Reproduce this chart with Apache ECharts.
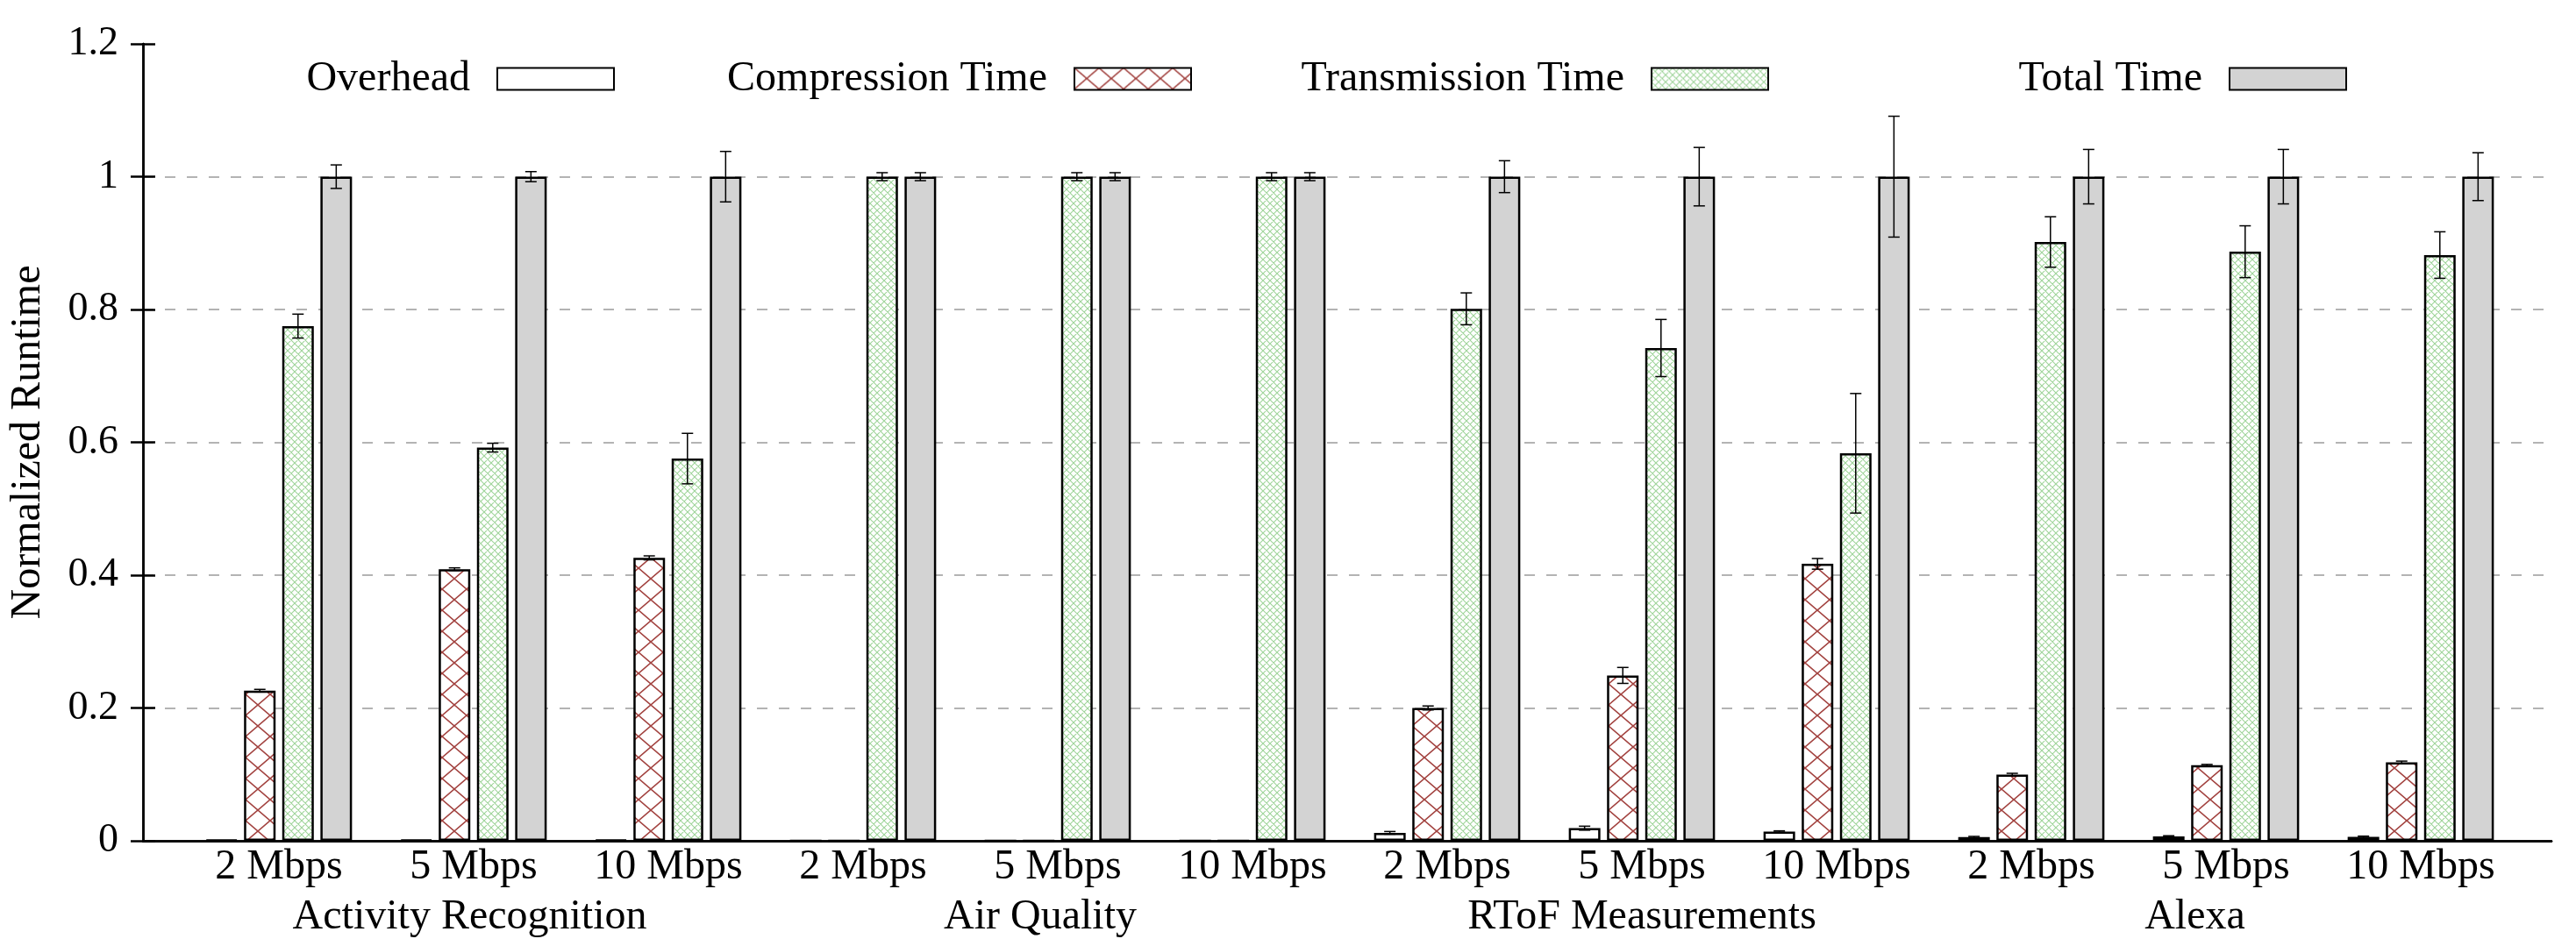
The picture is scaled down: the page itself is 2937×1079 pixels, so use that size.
<!DOCTYPE html>
<html>
  <head>
    <meta charset="utf-8">
    <title>Normalized Runtime</title>
    <style>
    body {margin:0; background:#fff}
    #chart {width:2937px; height:1079px}
    </style>
    <script src="https://cdn.jsdelivr.net/npm/echarts@6.0.0/dist/echarts.min.js"></script>
  </head>
  <body>
    <div id="chart"></div>
    <script>
    // x categories and group titles
    const categories = ['2 Mbps', '5 Mbps', '10 Mbps', '2 Mbps', '5 Mbps', '10 Mbps',
                        '2 Mbps', '5 Mbps', '10 Mbps', '2 Mbps', '5 Mbps', '10 Mbps'];
    const groupNames = ['Activity Recognition', 'Air Quality', 'RToF Measurements', 'Alexa'];
    const groupLabelPos = [0.98, 3.91, 7.0, 9.84];
    const yTicks = [0, 0.2, 0.4, 0.6, 0.8, 1, 1.2];

    // values
    const overhead      = [0.0015, 0.0015, 0.0015, 0, 0, 0, 0.012, 0.019, 0.014, 0.0056, 0.0066, 0.006];
    const compression   = [0.226, 0.409, 0.426, 0, 0, 0, 0.200, 0.249, 0.417, 0.0996, 0.114, 0.118];
    const transmission  = [0.775, 0.592, 0.5755, 1, 1, 1, 0.801, 0.742, 0.5835, 0.9016, 0.887, 0.882];
    const total         = [1, 1, 1, 1, 1, 1, 1, 1, 1, 1, 1, 1];

    const overheadErr     = [0, 0, 0, 0, 0, 0, 0.002, 0.003, 0.001, 0.001, 0.001, 0.001];
    const compressionErr  = [0.002, 0.002, 0.003, 0, 0, 0, 0.003, 0.012, 0.008, 0.002, 0.001, 0.002];
    const transmissionErr = [0.018, 0.0066, 0.038, 0.006, 0.006, 0.006, 0.024, 0.043, 0.09, 0.038, 0.039, 0.035];
    const totalErr        = [0.0177, 0.0076, 0.038, 0.006, 0.006, 0.006, 0.024, 0.044, 0.091, 0.041, 0.041, 0.036];

    const FONT = 'Liberation Serif, DejaVu Serif, serif';
    const BAR_W = 36, BAR_GAP = 0.21;

    function hatch(w, h, color, lw){
      const c = document.createElement('canvas');
      c.width = w; c.height = h;
      const g = c.getContext('2d');
      g.fillStyle = '#fff';
      g.fillRect(0, 0, w, h);
      g.strokeStyle = color;
      g.lineWidth = lw;
      g.beginPath();
      for (let k = -1; k <= 1; k++) {
        g.moveTo(k * w, 0); g.lineTo(k * w + w, h);
        g.moveTo(k * w + w, 0); g.lineTo(k * w, h);
      }
      g.stroke();
      return {image: c, repeat: 'repeat'};
    }

    const styles = [
      {color: '#ffffff'},
      {color: hatch(28, 24, '#a2423f', 1.6)},
      {color: hatch(8, 8, '#9fd49a', 1.1)},
      {color: '#d3d3d3'}
    ];
    const names = ['Overhead', 'Compression Time', 'Transmission Time', 'Total Time'];
    const values = [overhead, compression, transmission, total];
    const errors = [overheadErr, compressionErr, transmissionErr, totalErr];
    const legendRight = [2236, 1578, 920, 261];

    const step = BAR_W * (1 + BAR_GAP);

    const barSeries = names.map((n, i) => ({
      name: n,
      type: 'bar',
      xAxisIndex: 2,
      yAxisIndex: 2,
      barWidth: BAR_W,
      barGap: (BAR_GAP * 100) + '%',
      itemStyle: Object.assign({borderColor: '#000', borderWidth: 2.5}, styles[i]),
      emphasis: {disabled: true},
      data: values[i]
    }));

    const errSeries = names.map((n, i) => ({
      type: 'custom',
      xAxisIndex: 2,
      yAxisIndex: 2,
      silent: true,
      z: 5,
      data: values[i].map((v, k) => [k, v, errors[i][k]]),
      renderItem: function (params, api){
        const e = api.value(2);
        if (!e) return;
        const k = api.value(0), v = api.value(1);
        const x = api.coord([k, v])[0] + (i - 1.5) * step;
        const y1 = api.coord([k, v + e])[1];
        const y2 = api.coord([k, v - e])[1];
        const st = {stroke: '#000', lineWidth: 1.5};
        return {
          type: 'group',
          children: [
            {type: 'line', shape: {x1: x, y1: y1, x2: x, y2: y2}, style: st},
            {type: 'line', shape: {x1: x - 6.5, y1: y1, x2: x + 6.5, y2: y1}, style: st},
            {type: 'line', shape: {x1: x - 6.5, y1: y2, x2: x + 6.5, y2: y2}, style: st}
          ]
        };
      }
    }));

    const frameLine = {show: true, lineStyle: {color: '#000', width: 2.5}};

    const option = {
      animation: false,
      backgroundColor: '#fff',
      textStyle: {fontFamily: FONT, color: '#000'},
      legend: names.map((n, i) => ({
        data: [{name: n, icon: 'rect'}],
        right: legendRight[i],
        top: 66,
        padding: 0,
        align: 'right',
        itemWidth: 133,
        itemHeight: 25,
        selectedMode: false,
        textStyle: {fontFamily: FONT, fontSize: 48, color: '#000', padding: [0, 26, 0, 0]}
      })),
      grid: [
        {left: 161, right: 28, top: 50, bottom: 120},
        {left: 207, right: 66, top: 50, bottom: 120}
      ],
      xAxis: [
        {gridIndex: 0, type: 'value', min: 0, max: 1, position: 'bottom',
         axisLine: frameLine, axisTick: {show: false}, axisLabel: {show: false}, splitLine: {show: false}},
        {gridIndex: 0, type: 'value', min: 0, max: 1, position: 'top',
         axisLine: frameLine, axisTick: {show: false}, axisLabel: {show: false}, splitLine: {show: false}},
        {gridIndex: 1, type: 'category', data: categories, position: 'bottom',
         axisLine: {show: false}, axisTick: {show: false},
         axisLabel: {fontFamily: FONT, fontSize: 48, color: '#000', margin: 30, verticalAlign: 'middle', interval: 0}},
        {gridIndex: 1, type: 'value', min: -0.5, max: 11.5, position: 'bottom',
         axisLine: {show: false}, axisTick: {show: false}, splitLine: {show: false},
         axisLabel: {
           fontFamily: FONT, fontSize: 48, color: '#000', margin: 87, verticalAlign: 'middle',
           customValues: groupLabelPos,
           formatter: function (v){
             let best = 0;
             groupLabelPos.forEach((p, j) => { if (Math.abs(p - v) < Math.abs(groupLabelPos[best] - v)) best = j; });
             return groupNames[best];
           }
         }}
      ],
      yAxis: [
        {gridIndex: 0, type: 'value', min: 0, max: 1.2, interval: 0.2, position: 'left',
         name: 'Normalized Runtime', nameLocation: 'middle', nameGap: 107,
         nameTextStyle: {fontFamily: FONT, fontSize: 48, color: '#000'},
         axisLine: frameLine,
         axisTick: {show: true, inside: true, length: 14, lineStyle: {color: '#000', width: 2.5}},
         axisLabel: {fontFamily: FONT, fontSize: 46, color: '#000', margin: 28,
                     customValues: yTicks, formatter: v => String(+v.toFixed(1))},
         splitLine: {show: true, showMinLine: false, showMaxLine: false,
                     lineStyle: {color: '#b3b3b3', width: 2, type: [12, 13]}}},
        {gridIndex: 0, type: 'value', min: 0, max: 1.2, interval: 0.2, position: 'right',
         axisLine: frameLine,
         axisTick: {show: true, inside: true, length: 14, lineStyle: {color: '#000', width: 2.5}},
         axisLabel: {show: false}, splitLine: {show: false}},
        {gridIndex: 1, type: 'value', min: 0, max: 1.2, show: false}
      ],
      series: barSeries.concat(errSeries)
    };

    const chart = echarts.init(document.getElementById('chart'));
    chart.setOption(option);
    </script>
  </body>
</html>
